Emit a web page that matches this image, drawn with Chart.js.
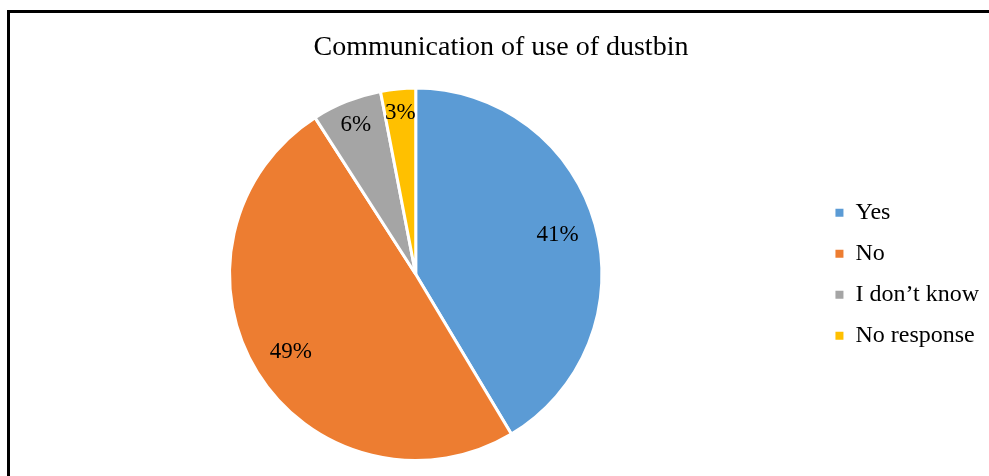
<!DOCTYPE html>
<html>
<head>
<meta charset="utf-8">
<script src="https://cdn.jsdelivr.net/npm/chart.js@4"></script>
<style>
  html, body { margin: 0; padding: 0; background: #fff; }
  #wrap { position: relative; width: 989px; height: 476px; }
  #frame { position: absolute; left: 7px; top: 10px; right: 0; bottom: 0;
           border-left: 3px solid #000; border-top: 3px solid #000; }
  #globalChart { position: absolute; left: 0; top: 0; }
</style>
</head>
<body>
<div id="wrap">
  <div id="frame"></div>
  <canvas id="globalChart" width="989" height="476"></canvas>
</div>
<script>
// chart data
const categories = ['Yes', 'No', 'I don\u2019t know', 'No response'];
const percentValues = [41, 49, 6, 3];
const sliceColors = ['#5B9BD5', '#ED7D31', '#A5A5A5', '#FFC000'];
const chartTitle = 'Communication of use of dustbin';

// where each % label sits along the slice middle (share of the radius)
const labelRadius = [0.79, 0.79, 0.865, 0.87];

const serif = '"Liberation Serif", "Times New Roman", serif';

// draw "41%" style labels inside the slices
const sliceLabels = {
    id: 'sliceLabels',
    afterDatasetsDraw(chart) {
        const ctx = chart.ctx;
        const meta = chart.getDatasetMeta(0);
        ctx.save();
        ctx.font = '23px ' + serif;
        ctx.fillStyle = '#000';
        ctx.textAlign = 'center';
        ctx.textBaseline = 'middle';
        meta.data.forEach((arc, i) => {
            const mid = (arc.startAngle + arc.endAngle) / 2;
            const r = arc.outerRadius * labelRadius[i];
            const x = arc.x + Math.cos(mid) * r;
            const y = arc.y + Math.sin(mid) * r;
            ctx.fillText(percentValues[i] + '%', x, y);
        });
        ctx.restore();
    }
};

// legend squares without the white slice border
const defaultLabels = Chart.overrides.pie.plugins.legend.labels.generateLabels;

const ctx = document.getElementById('globalChart').getContext('2d');
const globalChart = new Chart(ctx, {
    type: 'pie',
    data: {
        labels: categories,
        datasets: [{
            data: percentValues,
            backgroundColor: sliceColors,
            borderColor: '#fff',
            borderWidth: 3
        }]
    },
    options: {
        responsive: false,
        animation: false,
        layout: { padding: { left: 13, right: 0, top: 0, bottom: 14 } },
        plugins: {
            title: {
                display: true,
                text: chartTitle,
                color: '#000',
                font: { family: serif, size: 28, weight: 'normal' },
                padding: { top: 31, bottom: 22 }
            },
            legend: {
                position: 'right',
                fullSize: false,
                labels: {
                    color: '#000',
                    font: { family: serif, size: 24 },
                    boxWidth: 8,
                    boxHeight: 8,
                    padding: 17,
                    generateLabels: chart => defaultLabels(chart).map(item => {
                        item.lineWidth = 0;
                        item.strokeStyle = item.fillStyle;
                        return item;
                    })
                }
            },
            tooltip: { enabled: false }
        }
    },
    plugins: [sliceLabels]
});
</script>
</body>
</html>
